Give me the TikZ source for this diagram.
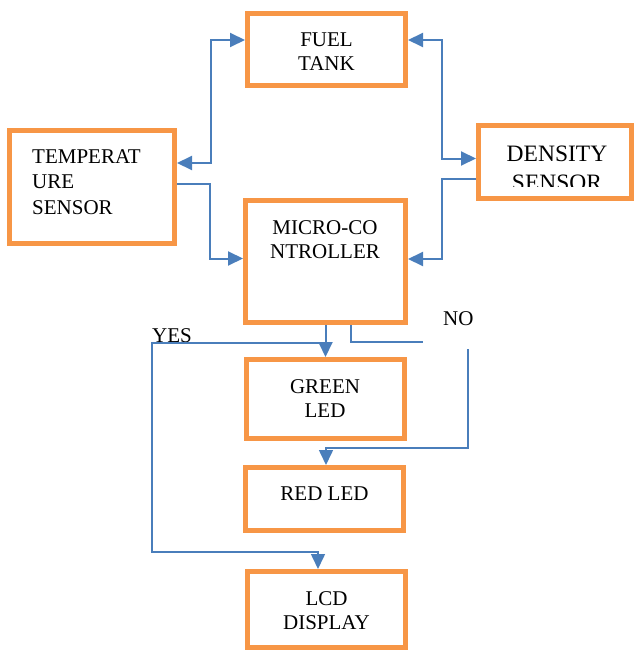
\documentclass[tikz,border=0pt]{standalone}
\usepackage{fontspec}
\setmainfont{Liberation Serif}
\usetikzlibrary{arrows.meta}
\definecolor{boxorange}{HTML}{F79646}
\definecolor{linkblue}{HTML}{4A7EBB}
\begin{document}
\begin{tikzpicture}[x=1pt,y=-1pt,
  box/.style={draw=boxorange,line width=5pt,inner sep=0pt,outer sep=2.5pt},
  conn/.style={draw=linkblue,line width=2pt},
  connthin/.style={draw=linkblue,line width=1.6pt},
  >={Triangle[length=15pt,width=14pt]},
  txt/.style={font=\fontsize{21pt}{24pt}\selectfont,inner sep=0pt,anchor=base,align=center},
  txtl/.style={font=\fontsize{21pt}{25.5pt}\selectfont,inner sep=0pt,anchor=base west,align=left},
  txtbig/.style={font=\fontsize{23.5pt}{29pt}\selectfont,inner sep=0pt,anchor=base,align=center}]
\useasboundingbox (0,0) rectangle (635,650);

% boxes
\node[box,minimum width=158pt,minimum height=72pt] (fuel) at (326.5,49.5) {};
\node[box,minimum width=165pt,minimum height=113pt] (temp) at (92,187) {};
\node[box,minimum width=153pt,minimum height=73pt] (dens) at (555,162) {};
\node[box,minimum width=160pt,minimum height=122pt] (mc) at (325.5,261.5) {};
\node[box,minimum width=158pt,minimum height=79pt] (green) at (325.5,399) {};
\node[box,minimum width=158pt,minimum height=63pt] (red) at (324.5,499) {};
\node[box,minimum width=158pt,minimum height=76pt] (lcd) at (326.5,609.5) {};

% texts (base anchor = baseline of the last line)
\node[txt] (fueltxt) at (326.5,71) {FUEL\\TANK};
\node[txtl] (temptxt) at (32,214) {TEMPERAT\\URE\\SENSOR};
\begin{scope}
  \clip (476,100) rectangle (634,186);
  \node[txtbig] (denstxt) at (557,190) {DENSITY\\SENSOR};
\end{scope}
\node[txt] (mctxt) at (325,258) {MICRO-CO\\NTROLLER};
\node[txt] (greentxt) at (325,417) {GREEN\\LED};
\node[txt] (redtxt) at (324.5,500) {RED LED};
\node[txt] (lcdtxt) at (326.5,629) {LCD\\DISPLAY};
\node[txtl] (yes) at (152,342) {YES};
\node[txtl] (no) at (443,325) {NO};

% connectors
\draw[conn,<->] ([yshift=9.5pt]fuel.west) -| (211,163) -- ([yshift=24pt]temp.east);
\draw[conn,->] ([yshift=3pt]temp.east) -| (210,258.5) -- ([yshift=3pt]mc.west);
\draw[conn,<->] ([yshift=9.5pt]fuel.east) -| (441.5,158.5) -- ([yshift=3.5pt]dens.west);
\draw[conn,->] ([yshift=-17pt]dens.west) -| (441.5,259) -- ([yshift=2.5pt]mc.east);
\draw[conn,->] (mc.south) -- (green.north);

\coordinate (nostop) at (423,342);
\coordinate (nostart) at (468,349);
\coordinate (yesjoin) at (325.5,343);
\draw[connthin] ([xshift=25.5pt]mc.south) |- (nostop);
\draw[connthin,->] (nostart) |- (326,448) -- ([xshift=1.5pt]red.north);
\draw[connthin,->] (yesjoin) -| (152,552) -| ([xshift=-8.5pt]lcd.north);
\end{tikzpicture}
\end{document}
